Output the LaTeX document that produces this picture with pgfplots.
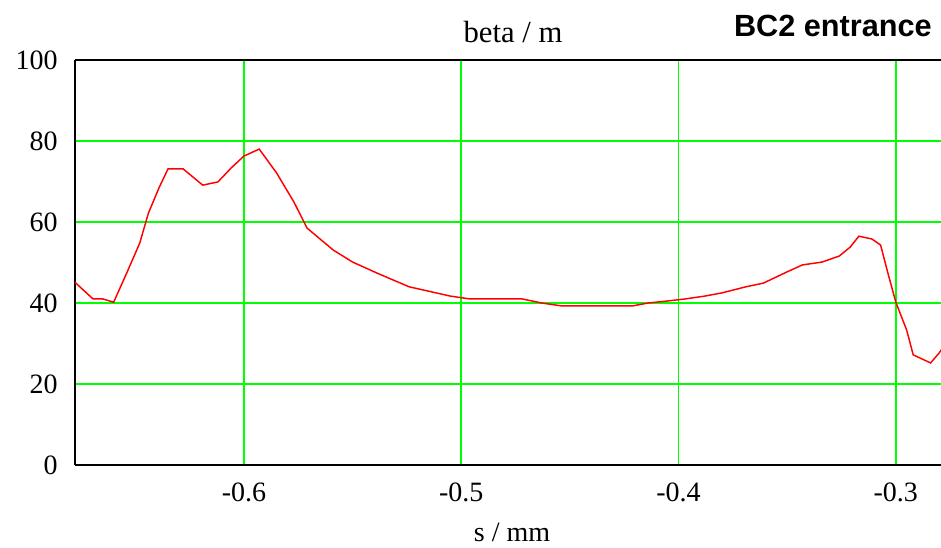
\documentclass[border=0pt]{standalone}
\usepackage{pgfplots}
\pgfplotsset{compat=1.18}
\usepackage{fontspec}
\setmainfont{Liberation Serif}
\newfontfamily\titlefont{Liberation Sans}
\definecolor{gridgreen}{RGB}{0,255,0}
\begin{document}
\begin{tikzpicture}
\begin{axis}[
  scale only axis,
  width=649.5pt, height=303.75pt,
  xmin=-0.6778, xmax=-0.2792,
  ymin=0, ymax=100,
  axis x line=box, axis y line=left,
  axis line style={black, line width=1.5pt, -},
  xtick={-0.6,-0.5,-0.4,-0.3},
  xticklabels={-0.6,-0.5,-0.4,-0.3},
  ytick={0,20,40,60,80,100},
  yticklabels={0,20,40,60,80,100},
  major tick length=0pt,
  grid=major,
  major grid style={gridgreen, line width=1.4pt},
  xticklabel style={font=\fontsize{21}{21}\selectfont, inner sep=0pt, anchor=north, yshift=-13.5pt},
  yticklabel style={font=\fontsize{21}{21}\selectfont, inner sep=0pt, anchor=east, xshift=-12.75pt},
  clip=true,
]
\addplot[red, line width=1.1pt, mark=none] coordinates {
(-0.678,45.2)
(-0.6695,41)
(-0.665,41)
(-0.660,40.2)
(-0.654,47.4)
(-0.648,54.8)
(-0.644,62.2)
(-0.639,68.6)
(-0.635,73.1)
(-0.628,73.1)
(-0.619,69.1)
(-0.612,69.9)
(-0.606,73.3)
(-0.600,76.3)
(-0.593,78.0)
(-0.585,72.1)
(-0.577,64.9)
(-0.571,58.5)
(-0.559,53.1)
(-0.550,50.1)
(-0.538,47.2)
(-0.524,44.0)
(-0.505,41.7)
(-0.496,41.0)
(-0.472,41.0)
(-0.463,40.0)
(-0.454,39.3)
(-0.421,39.3)
(-0.414,40.0)
(-0.405,40.5)
(-0.397,41.0)
(-0.388,41.7)
(-0.380,42.5)
(-0.369,44.0)
(-0.361,44.9)
(-0.350,47.7)
(-0.343,49.4)
(-0.334,50.1)
(-0.326,51.6)
(-0.321,53.8)
(-0.317,56.5)
(-0.311,55.8)
(-0.307,54.3)
(-0.304,48.1)
(-0.300,40.2)
(-0.295,33.3)
(-0.292,27.2)
(-0.284,25.2)
(-0.280,27.7)
(-0.277,30.0)
};
\end{axis}
\node[anchor=center, inner sep=0pt, font=\fontsize{21}{21}\selectfont] at ([xshift=327.75pt, yshift=-50.25pt]current axis.south west) {s / mm};
\node[anchor=center, inner sep=0pt, font=\fontsize{23}{23}\selectfont] at ([xshift=328.5pt, yshift=21pt]current axis.north west) {beta / m};
\node[anchor=east, inner sep=0pt, font=\titlefont\bfseries\fontsize{23}{23}\selectfont] at ([xshift=642.75pt, yshift=25.5pt]current axis.north west) {BC2 entrance};
\pgfresetboundingbox
\useasboundingbox ([xshift=-56.25pt, yshift=-61.5pt]current axis.south west) rectangle ([yshift=45pt]current axis.north east);
\end{tikzpicture}
\end{document}
